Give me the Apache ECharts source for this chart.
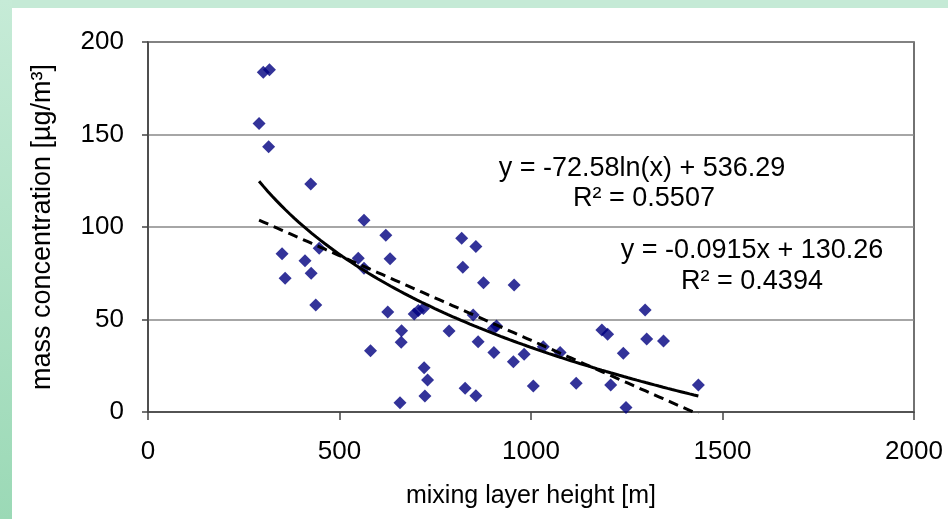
<!DOCTYPE html>
<html>
<head>
<meta charset="utf-8">
<script src="https://cdn.jsdelivr.net/npm/echarts@6/dist/echarts.min.js"></script>
<style>
html,body{margin:0;padding:0;background:#fff;}
#chart{width:948px;height:519px;}
</style>
</head>
<body>
<div id="chart"></div>
<script>
// Data
const mixingHeight = [301,317,290,315,425,564,621,350,447,549,632,410,564,358,426,438,626,581,658,
  819,856,822,876,956,695,706,719,849,910,902,1298,662,661,786,1185,1200,1302,1346,862,903,954,982,
  1032,1076,1241,721,730,1118,1208,1006,828,856,723,1248,1437];
const massConc = [183.6,185,156,143.4,123.2,103.6,95.5,85.6,88.5,83.1,82.9,81.8,77.7,72.3,75.0,57.8,54,33.1,5,
  93.9,89.4,78.2,69.9,68.6,53,54.8,56,52.4,46.5,45.2,55.1,43.9,37.7,43.8,44.3,42,39.5,38.4,38,32.1,27.2,31.2,
  35.3,32.1,31.7,23.9,17.3,15.5,14.6,14.1,12.8,8.8,8.6,2.5,14.6];
// Trendline equations shown in the chart
const logFit = {a: -72.58, b: 536.29, r2: '0.5507'};
const linFit = {a: -0.0915, b: 130.26, r2: '0.4394'};

const scatterData = mixingHeight.map((x, i) => [x, massConc[i]]);
const xMin = Math.min(...mixingHeight), xMax = Math.max(...mixingHeight);
const logLine = [], linLine = [];
for (let k = 0; k <= 100; k++) {
  const x = xMin + (xMax - xMin) * k / 100;
  logLine.push([x, logFit.a * Math.log(x) + logFit.b]);
  linLine.push([x, linFit.a * x + linFit.b]);
}

const FONT = "'Liberation Sans', Arial, sans-serif";
const EQ_FONT = '27px ' + FONT;
const chart = echarts.init(document.getElementById('chart'), null, {renderer: 'canvas'});
chart.setOption({
  animation: false,
  backgroundColor: '#ffffff',
  textStyle: {fontFamily: FONT},
  graphic: [
    {type: 'rect', z: -10, shape: {x: 0, y: 0, width: 948, height: 8}, style: {fill: '#c5ead6'}},
    {type: 'rect', z: -10, shape: {x: 0, y: 0, width: 12, height: 519},
      style: {fill: new echarts.graphic.LinearGradient(0, 0, 0, 1, [
        {offset: 0, color: '#c6ebd7'}, {offset: 1, color: '#9bd9b6'}])}},
    {type: 'text', z: 50, style: {text: 'y = ' + logFit.a + 'ln(x) + ' + logFit.b, x: 642, y: 169,
      align: 'center', verticalAlign: 'middle', font: EQ_FONT, fill: '#000'}},
    {type: 'text', z: 50, style: {text: 'R² = ' + logFit.r2, x: 644, y: 199,
      align: 'center', verticalAlign: 'middle', font: EQ_FONT, fill: '#000'}},
    {type: 'text', z: 50, style: {text: 'y = ' + linFit.a + 'x + ' + linFit.b, x: 752, y: 251,
      align: 'center', verticalAlign: 'middle', font: EQ_FONT, fill: '#000'}},
    {type: 'text', z: 50, style: {text: 'R² = ' + linFit.r2, x: 752, y: 282,
      align: 'center', verticalAlign: 'middle', font: EQ_FONT, fill: '#000'}}
  ],
  grid: {left: 148, top: 42, width: 766, height: 370, show: true, borderColor: '#444', borderWidth: 1.5,
    backgroundColor: 'transparent'},
  xAxis: {
    type: 'value', min: 0, max: 2000, interval: 500,
    name: 'mixing layer height [m]', nameLocation: 'middle', nameGap: 72,
    nameTextStyle: {fontSize: 25, color: '#000', fontFamily: FONT},
    axisLine: {lineStyle: {color: '#444', width: 1.5}},
    axisTick: {show: true, inside: false, length: 8, lineStyle: {color: '#444', width: 1.5}},
    axisLabel: {fontSize: 26, color: '#000', margin: 27, fontFamily: FONT,
      formatter: v => String(v)},
    splitLine: {show: false}
  },
  yAxis: {
    type: 'value', min: 0, max: 200, interval: 50,
    name: 'mass concentration [µg/m³]', nameLocation: 'middle', nameGap: 92, nameRotate: 90,
    nameTextStyle: {fontSize: 27, color: '#000', fontFamily: FONT},
    axisLine: {show: true, lineStyle: {color: '#444', width: 1.5}},
    axisTick: {show: true, inside: false, length: 6, lineStyle: {color: '#444', width: 1.5}},
    axisLabel: {fontSize: 26, color: '#000', margin: 24, fontFamily: FONT,
      formatter: v => String(v)},
    splitLine: {show: true, lineStyle: {color: '#888', width: 1.5}}
  },
  series: [
    {type: 'scatter', data: scatterData, symbol: 'diamond', symbolSize: 13,
      itemStyle: {color: '#000080'}, z: 3},
    {type: 'line', data: logLine, showSymbol: false, smooth: false, clip: true,
      lineStyle: {color: '#000', width: 3}, z: 4},
    {type: 'line', data: linLine, showSymbol: false, smooth: false, clip: true,
      lineStyle: {color: '#000', width: 3, type: [10, 6]}, z: 4}
  ]
});
</script>
</body>
</html>
